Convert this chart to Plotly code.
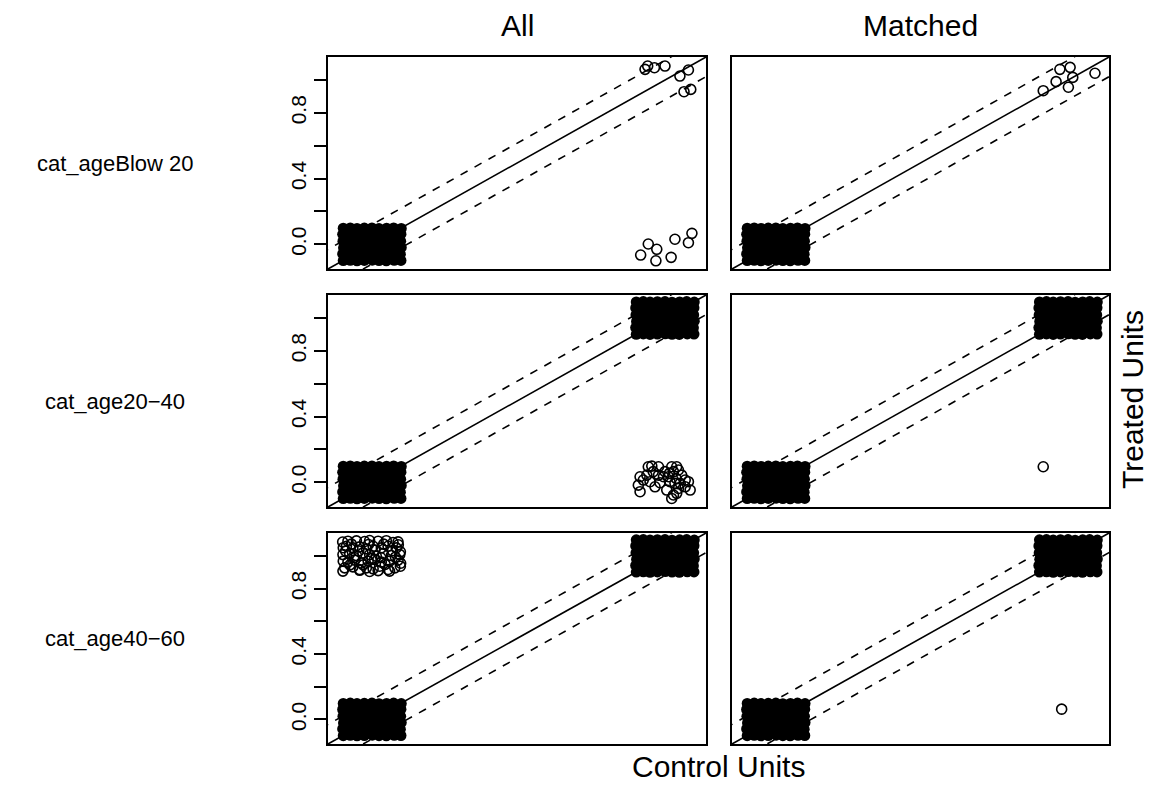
import plotly.graph_objects as go

# ---------------- data ----------------
ROW_LABELS = ["cat_ageBlow 20", "cat_age20\u221240", "cat_age40\u221260"]
COL_LABELS = ["All", "Matched"]
X_TITLE = "Control Units"
Y_TITLE = "Treated Units"

AXIS_RANGE = [-0.150, 1.140]
TICK_VALS = [0.0, 0.2, 0.4, 0.6, 0.8, 1.0]
TICK_TEXT = ["0.0", "", "0.4", "", "0.8", ""]
DASH_OFFSET = 0.12

# jitter offsets of the many overlapping units in the dense clusters
DENSE_DX = [-0.098, -0.074, -0.051, -0.026, 0.001, 0.024, 0.049, 0.076, 0.099,
            -0.100, -0.076, -0.049, -0.024, -0.002, 0.026, 0.051, 0.074, 0.097,
            -0.097, -0.075, -0.052, -0.025, 0.002, 0.023, 0.048, 0.075, 0.100,
            -0.099, -0.073, -0.050, -0.027, -0.001, 0.025, 0.052, 0.073, 0.098,
            -0.100, -0.076, -0.048, -0.024, 0.001, 0.026, 0.049, 0.076, 0.099,
            -0.098, -0.074, -0.051, -0.026, 0.000, 0.024, 0.050, 0.074, 0.100]
DENSE_DY = [-0.099, -0.097, -0.100, -0.098, -0.096, -0.099, -0.100, -0.097, -0.098,
            -0.058, -0.061, -0.057, -0.060, -0.062, -0.059, -0.056, -0.061, -0.060,
            -0.021, -0.018, -0.022, -0.019, -0.020, -0.023, -0.018, -0.021, -0.019,
            0.019, 0.022, 0.018, 0.021, 0.023, 0.017, 0.020, 0.022, 0.019,
            0.061, 0.058, 0.062, 0.059, 0.057, 0.061, 0.060, 0.058, 0.062,
            0.098, 0.100, 0.097, 0.099, 0.100, 0.096, 0.098, 0.100, 0.097]

# dense clusters (control value, treated value) per row, for All / Matched
DENSE_ALL = [[(0, 0)], [(0, 0), (1, 1)], [(0, 0), (1, 1)]]
DENSE_MATCHED = [[(0, 0)], [(0, 0), (1, 1)], [(0, 0), (1, 1)]]

# individually visible (jittered) points
SPARSE_ALL_X = [
    [0.932, 0.941, 0.964, 1.000, 1.051, 1.080, 1.065, 1.088,
     0.917, 0.943, 0.972, 0.969, 1.021, 1.034, 1.080, 1.092],
    [0.915, 0.909, 0.915, 0.926, 0.943, 0.955, 0.978, 0.983, 0.949, 0.966,
     1.000, 1.012, 1.023, 1.029, 1.040, 1.046, 1.057, 1.017, 1.034, 1.052,
     1.069, 1.080, 1.086, 1.069, 1.046, 1.006, 1.029, 1.023, 1.040, 0.938,
     0.995, 1.015, 1.038, 0.978, 0.960],
    [-0.100, -0.082, -0.053, -0.025, -0.008, 0.021, 0.049, 0.072, 0.089,
     -0.098, -0.087, -0.065, -0.042, -0.019, 0.004, 0.032, 0.055, 0.083, 0.097,
     -0.099, -0.076, -0.053, -0.031, -0.008, 0.015, 0.038, 0.066, 0.095,
     -0.098, -0.082, -0.059, -0.036, -0.013, 0.009, 0.032, 0.060, 0.089, 0.098,
     -0.093, -0.065, -0.042, -0.019, 0.004, 0.026, 0.055, 0.078, 0.097,
     -0.099, -0.042, -0.008, 0.021, 0.060,
     -0.090, -0.070, -0.045, -0.012, 0.010, 0.040, 0.070, 0.090,
     -0.060, -0.030, 0.000, 0.045, 0.080, -0.075, 0.030],
]
SPARSE_ALL_Y = [
    [1.065, 1.085, 1.075, 1.085, 1.024, 1.061, 0.929, 0.943,
     -0.065, 0.002, -0.030, -0.100, -0.079, 0.031, 0.010, 0.067],
    [0.034, -0.017, -0.057, 0.014, 0.095, 0.099, 0.095, -0.002, 0.004, -0.027,
     0.065, 0.034, 0.095, 0.065, 0.095, 0.075, 0.044, 0.004, -0.006, -0.006,
     0.014, 0.004, -0.047, -0.027, -0.037, -0.047, -0.077, -0.098, -0.067, 0.044,
     0.034, 0.054, 0.024, 0.044, 0.065],
    [1.085, 1.090, 1.092, 1.088, 1.094, 1.090, 1.093, 1.082, 1.086,
     1.050, 1.059, 1.049, 1.055, 1.043, 1.059, 1.049, 1.059, 1.049, 1.025,
     1.008, 1.014, 1.002, 1.018, 1.008, 0.998, 1.014, 1.002, 1.008,
     0.968, 0.962, 0.974, 0.957, 0.968, 0.978, 0.962, 0.968, 0.974, 0.955,
     0.927, 0.933, 0.917, 0.927, 0.921, 0.937, 0.917, 0.927, 0.937,
     0.907, 0.912, 0.905, 0.910, 0.907,
     1.030, 1.072, 1.030, 1.070, 1.035, 1.072, 1.032, 1.068,
     0.990, 0.945, 0.985, 0.948, 0.992, 0.945, 0.990],
]
SPARSE_MATCHED_X = [
    [0.915, 0.959, 0.972, 1.007, 1.016, 1.001, 1.092],
    [0.915],
    [0.978],
]
SPARSE_MATCHED_Y = [
    [0.935, 0.990, 1.065, 1.077, 1.016, 0.956, 1.041],
    [0.095],
    [0.063],
]

# ---------------- layout geometry (pixels of the 1157x788 page) ----------------
W, H = 1157, 788
COL_PX = [(328, 706), (732, 1109)]
ROW_PX = [(57, 269), (295, 507), (533, 744)]

fig = go.Figure()

FONT = "Liberation Sans, Arial, Helvetica, sans-serif"

for r in range(3):
    for c in range(2):
        idx = r * 2 + c + 1
        xa = "x" if idx == 1 else f"x{idx}"
        ya = "y" if idx == 1 else f"y{idx}"
        dense = (DENSE_ALL if c == 0 else DENSE_MATCHED)[r]
        sx = (SPARSE_ALL_X if c == 0 else SPARSE_MATCHED_X)[r]
        sy = (SPARSE_ALL_Y if c == 0 else SPARSE_MATCHED_Y)[r]

        # dense clusters
        dxs, dys = [], []
        for (cx, cy) in dense:
            dxs += [cx + d for d in DENSE_DX]
            dys += [cy + d for d in DENSE_DY]
        fig.add_trace(go.Scatter(
            x=dxs, y=dys, mode="markers", xaxis=xa, yaxis=ya,
            marker=dict(symbol="circle", size=11, color="black",
                        line=dict(color="black", width=0)),
            showlegend=False, hoverinfo="skip"))
        # individual points
        fig.add_trace(go.Scatter(
            x=sx, y=sy, mode="markers", xaxis=xa, yaxis=ya,
            marker=dict(symbol="circle-open", size=10, color="black",
                        line=dict(color="black", width=1.6)),
            showlegend=False, hoverinfo="skip"))
        # reference lines
        lo, hi = AXIS_RANGE
        ext = [lo - 0.5, hi + 0.5]
        fig.add_trace(go.Scatter(
            x=ext, y=ext, mode="lines", xaxis=xa, yaxis=ya,
            line=dict(color="black", width=1.6),
            showlegend=False, hoverinfo="skip"))
        for off in (DASH_OFFSET, -DASH_OFFSET):
            fig.add_trace(go.Scatter(
                x=ext, y=[v + off for v in ext], mode="lines", xaxis=xa, yaxis=ya,
                line=dict(color="black", width=1.6, dash="8px,8px"),
                showlegend=False, hoverinfo="skip"))

        x0, x1 = COL_PX[c]
        y0, y1 = ROW_PX[r]
        xkey = "xaxis" if idx == 1 else f"xaxis{idx}"
        ykey = "yaxis" if idx == 1 else f"yaxis{idx}"
        fig.layout[xkey] = dict(
            domain=[x0 / W, x1 / W], range=AXIS_RANGE, anchor=ya,
            showgrid=False, zeroline=False, showticklabels=False, ticks="",
            showline=True, mirror=True, linecolor="black", linewidth=1.8)
        ydict = dict(
            domain=[1 - y1 / H, 1 - y0 / H], range=AXIS_RANGE, anchor=xa,
            showgrid=False, zeroline=False,
            showline=True, mirror=True, linecolor="black", linewidth=1.8)
        if c == 0:
            ydict.update(
                tickmode="array", tickvals=TICK_VALS, ticktext=TICK_TEXT,
                ticks="outside", ticklen=12, tickwidth=1.6, tickcolor="black",
                tickangle=-90, tickfont=dict(size=21, color="black", family=FONT))
        else:
            ydict.update(showticklabels=False, ticks="")
        fig.layout[ykey] = ydict

annotations = []
for c, lab in enumerate(COL_LABELS):
    x0, x1 = COL_PX[c]
    annotations.append(dict(text=lab, x=(x0 + x1) / 2 / W, y=1 - 25 / H,
                            xref="paper", yref="paper", showarrow=False,
                            xanchor="center", yanchor="middle",
                            font=dict(size=30, color="black", family=FONT)))
for r, lab in enumerate(ROW_LABELS):
    y0, y1 = ROW_PX[r]
    annotations.append(dict(text=lab, x=115 / W, y=1 - (y0 + y1) / 2 / H,
                            xref="paper", yref="paper", showarrow=False,
                            xanchor="center", yanchor="middle",
                            font=dict(size=22, color="black", family=FONT)))
annotations.append(dict(text=X_TITLE, x=718 / W, y=1 - 766 / H,
                        xref="paper", yref="paper", showarrow=False,
                        xanchor="center", yanchor="middle",
                        font=dict(size=30, color="black", family=FONT)))
annotations.append(dict(text=Y_TITLE, x=1132 / W, y=1 - 400 / H,
                        xref="paper", yref="paper", showarrow=False,
                        xanchor="center", yanchor="middle", textangle=-90,
                        font=dict(size=30, color="black", family=FONT)))

fig.update_layout(
    width=W, height=H, margin=dict(l=0, r=0, t=0, b=0),
    paper_bgcolor="white", plot_bgcolor="white",
    annotations=annotations, font=dict(family=FONT, color="black"))

fig.write_html("out.html")
